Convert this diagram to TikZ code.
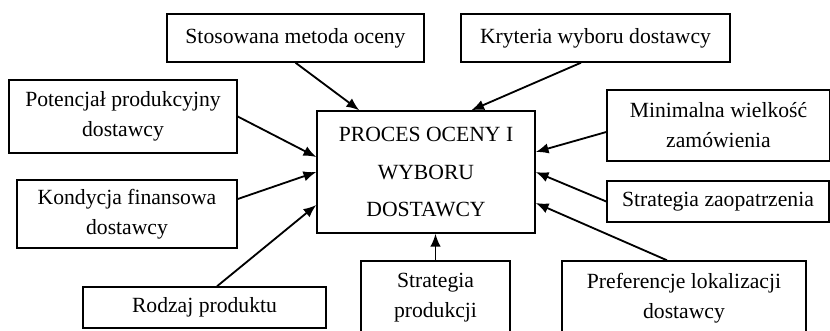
\documentclass[tikz,border=0pt]{standalone}
\usepackage{fontspec}
\setmainfont{Liberation Serif}
\usepackage{tikz}
\usetikzlibrary{arrows.meta,positioning,calc}
\tikzset{
  base/.style={font=\fontsize{15.4}{21.3}\selectfont, align=center, inner sep=0pt, text=black},
  box/.style={base, rectangle, draw=black, fill=white, line width=1pt},
  mainbox/.style={box, font=\fontsize{15.4}{26.7}\selectfont},
  arr/.style={-{Latex[length=3.2mm,width=2.6mm]}, line width=1.3pt, draw=black},
}
\begin{document}
\begin{tikzpicture}[x=0.025cm,y=-0.025cm]
  \useasboundingbox (0,0) rectangle (830,330);
  \node[mainbox,minimum width=5.45cm,minimum height=3.05cm] (proc) at (426,172) {PROCES OCENY I\\WYBORU\\DOSTAWCY};
  \node[box,minimum width=6.425cm,minimum height=1.2cm] (stos) at (295.5,38) {Stosowana metoda oceny};
  \node[box,minimum width=6.725cm,minimum height=1.2cm] (kryt) at (595.5,38) {Kryteria wyboru dostawcy};
  \node[box,minimum width=5.7cm,minimum height=1.825cm] (pot) at (123,116.5) {Potencjał produkcyjny\\dostawcy};
  \node[box,minimum width=5.5cm,minimum height=1.7cm] (kond) at (127,214) {Kondycja finansowa\\dostawcy};
  \node[box,minimum width=6.075cm,minimum height=1.025cm] (rodz) at (204.5,307.5) {Rodzaj produktu};
  \node[box,minimum width=5.575cm,minimum height=1.775cm] (minw) at (718.5,125.5) {Minimalna wielkość\\zamówienia};
  \node[box,minimum width=5.55cm,minimum height=1.025cm] (zaop) at (718,201.5) {Strategia zaopatrzenia};
  \node[box,minimum width=3.725cm,minimum height=1.85cm] (prod) at (435.5,298) {Strategia\\produkcji};
  \node[box,minimum width=6.1cm,minimum height=1.85cm] (pref) at (684,298) {Preferencje lokalizacji\\dostawcy};
  % top
  \draw[arr] (stos.south) -- ($(proc.north west)+(43,0)$);
  \draw[arr] ($(kryt.south)+(-14.5,0)$) -- ($(proc.north west)+(155,0)$);
  % left
  \draw[arr] (pot.east) -- ($(proc.west)+(0,-15)$);
  \draw[arr] ($(kond.east)+(0,-15)$) -- (proc.west);
  \draw[arr] ($(rodz.north)+(12.5,0)$) -- ($(proc.west)+(0,33)$);
  % right
  \draw[arr] ($(minw.west)+(0,6.5)$) -- ($(proc.east)+(0,-20)$);
  \draw[arr] (zaop.west) -- (proc.east);
  \draw[arr] ($(pref.north)+(-17,0)$) -- ($(proc.east)+(0,31)$);
  % bottom
  \draw[arr] (prod.north) -- (prod.north |- proc.south);
\end{tikzpicture}
\end{document}
